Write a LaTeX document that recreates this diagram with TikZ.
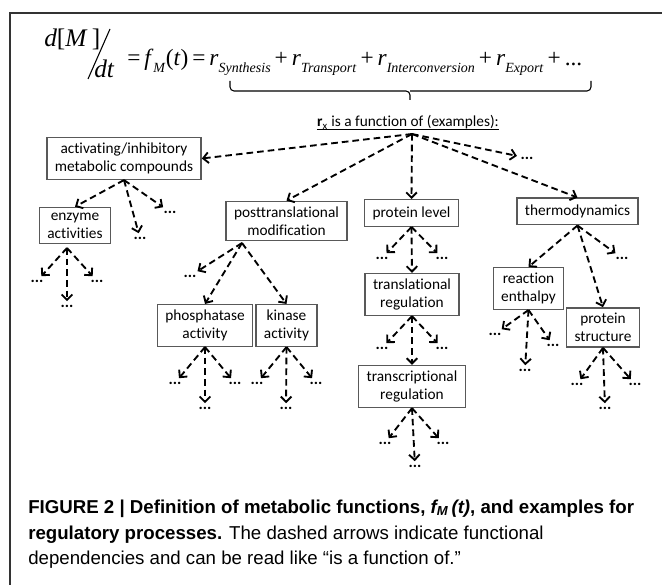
\documentclass[tikz,border=0pt]{standalone}
\usepackage{fontspec}
\usepackage{xcolor}
\usetikzlibrary{arrows.meta}
\newfontfamily\boxfont[Ligatures=NoCommon]{Carlito}
\newfontfamily\eqfont{Liberation Serif}
\newfontfamily\capfont{Liberation Sans}
\newcommand{\rsub}[1]{\textit{r}\raisebox{-5pt}{\fontsize{10.5}{10.5}\selectfont\textit{#1}}}
\newcommand{\opsp}[1]{\hspace{3pt}#1\hspace{3pt}}

\begin{document}
\begin{tikzpicture}[x=0.75pt,y=-0.75pt]
        \tikzset{box/.style={draw=black!65,line width=1pt,align=center,
                inner xsep=6pt,inner ysep=4pt,minimum height=20pt,
                font=\boxfont\fontsize{11.5}{13.5}\selectfont},
            blank/.style={inner sep=2.5pt,font=\boxfont\bfseries\fontsize{12}{12}\selectfont},
            dep/.style={draw,line width=1.4pt,dash pattern=on 5pt off 3pt,
                -{Straight Barb[length=4pt,width=8pt,line width=1.4pt]}},
            eq/.style={anchor=base west,inner sep=0,font=\eqfont\fontsize{17.5}{17.5}\selectfont},
            caption/.style={anchor=base west,inner sep=0,font=\capfont\fontsize{14}{14}\selectfont}}
        \useasboundingbox (0,0) rectangle (662,585);
        \draw[black!80,line width=1.1pt] (10,585) -- (10,13) -- (662,13);
        % rate equation
        \node[eq,font=\eqfont\fontsize{19}{19}\selectfont] (dm) at (44,47) {\textit{d}[\textit{M}\,]};
        \draw[line width=0.8pt] (110,29) -- (88,79);
        \node[eq,font=\eqfont\fontsize{19}{19}\selectfont] (dt) at (94,78) {\textit{dt}};
        \node[eq] (rates) at (127,66) {=\,\textit{f}\raisebox{-5pt}{\fontsize{10.5}{10.5}\selectfont\textit{M}}(\textit{t})\opsp{=}\rsub{Synthesis}\opsp{+}\rsub{Transport}\opsp{+}\rsub{Interconversion}\opsp{+}\rsub{Export}\opsp{+}...};
        \draw[line width=0.8pt,rounded corners=3pt] (230,81) |- (410,91) -- (410,100);
        \draw[line width=0.8pt,rounded corners=3pt] (591,81) |- (410,91);
        \node[inner sep=0,anchor=base,font=\boxfont\fontsize{11.5}{13.5}\selectfont] (rx) at (408,127)
            {\textbf{r}\textsubscript{x} is a function of (examples):};
        \draw[line width=0.6pt] ([yshift=-1.5pt]rx.base west) -- ([yshift=-1.5pt]rx.base east);
        \coordinate (hub) at (412,134);
        % boxes
        \node[box] (act) at (124,158.5) {activating/inhibitory\\metabolic compounds};
        \node[box] (enz) at (75,225.5) {enzyme\\activities};
        \node[box] (post) at (286.5,221) {posttranslational\\modification};
        \node[box] (plev) at (411.5,213) {protein level};
        \node[box] (thermo) at (577.5,211.5) {thermodynamics};
        \node[box] (phos) at (205,325.5) {phosphatase\\activity};
        \node[box] (kin) at (286.5,325.5) {kinase\\activity};
        \node[box] (trl) at (412,294.5) {translational\\regulation};
        \node[box] (trc) at (412,386.5) {transcriptional\\regulation};
        \node[box] (renth) at (528.5,288.5) {reaction\\enthalpy};
        \node[box] (pstruct) at (603,327.5) {protein\\structure};
        \coordinate (enzout) at (67,248);
        \coordinate (postout) at (242,243);
        % open ends
        \node[blank] (d1) at (527,158) {...};
        \node[blank] (a1) at (140,238) {...};
        \node[blank] (a2) at (170,212) {...};
        \node[blank] (e1) at (37,281) {...};
        \node[blank] (e2) at (67,306) {...};
        \node[blank] (e3) at (97,281) {...};
        \node[blank] (p1) at (190,276) {...};
        \node[blank] (f1) at (175,383) {...};
        \node[blank] (f2) at (205,408) {...};
        \node[blank] (f3) at (235,383) {...};
        \node[blank] (k1) at (257,383) {...};
        \node[blank] (k2) at (286,408) {...};
        \node[blank] (k3) at (316,383) {...};
        \node[blank] (l1) at (382,258) {...};
        \node[blank] (l2) at (442,258) {...};
        \node[blank] (t1) at (382,348) {...};
        \node[blank] (t2) at (442,348) {...};
        \node[blank] (c1) at (385,443) {...};
        \node[blank] (c2) at (415,466) {...};
        \node[blank] (c3) at (443,443) {...};
        \node[blank] (h1) at (622,258) {...};
        \node[blank] (r1) at (495,334) {...};
        \node[blank] (r2) at (525,370) {...};
        \node[blank] (r3) at (553,345) {...};
        \node[blank] (s1) at (577,384) {...};
        \node[blank] (s2) at (605,408) {...};
        \node[blank] (s3) at (635,384) {...};
        % dependencies
        \draw[dep] (hub) -- (act.east);
        \draw[dep] (hub) -- (post.north);
        \draw[dep] (hub) -- (plev.north);
        \draw[dep] (hub) -- (d1);
        \draw[dep] (hub) -- (thermo.north);
        \draw[dep] (act.south) -- (enz.north);
        \draw[dep] (act.south) -- (a1);
        \draw[dep] (act.south) -- (a2);
        \foreach \leaf in {e1,e2,e3} \draw[dep] (enzout) -- (\leaf);
        \draw[dep] (postout) -- (p1);
        \draw[dep] (postout) -- (phos.north);
        \draw[dep] (postout) -- (kin.north);
        \foreach \leaf in {f1,f2,f3} \draw[dep] (phos.south) -- (\leaf);
        \foreach \leaf in {k1,k2,k3} \draw[dep] (kin.south) -- (\leaf);
        \draw[dep] (plev.south) -- (l1);
        \draw[dep] (plev.south) -- (trl.north);
        \draw[dep] (plev.south) -- (l2);
        \draw[dep] (trl.south) -- (t1);
        \draw[dep] (trl.south) -- (trc.north);
        \draw[dep] (trl.south) -- (t2);
        \foreach \leaf in {c1,c2,c3} \draw[dep] (trc.south) -- (\leaf);
        \draw[dep] (thermo.south) -- (renth.north);
        \draw[dep] (thermo.south) -- (pstruct.north);
        \draw[dep] (thermo.south) -- (h1);
        \foreach \leaf in {r1,r2,r3} \draw[dep] (renth.south) -- (\leaf);
        \foreach \leaf in {s1,s2,s3} \draw[dep] (pstruct.south) -- (\leaf);
        % caption
        \node[caption] (cap1) at (28,513) {\textbf{FIGURE 2 | Definition of metabolic functions, \textit{f\textsubscript{M}\,(t)}, and examples for}};
        \node[caption] (cap2) at (28,539) {\textbf{regulatory processes.} The dashed arrows indicate functional};
        \node[caption] (cap3) at (28,565) {dependencies and can be read like “is a function of.”};
    \end{tikzpicture}
\end{document}
